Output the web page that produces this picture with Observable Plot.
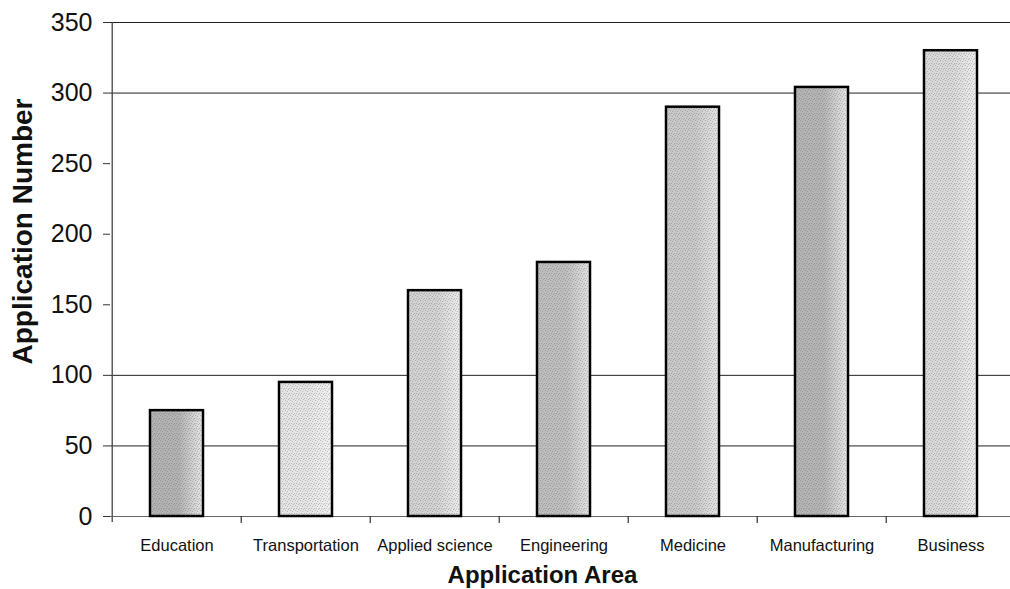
<!DOCTYPE html>
<html>
<head>
<meta charset="utf-8">
<script src="https://cdn.jsdelivr.net/npm/d3@7"></script>
<script src="https://cdn.jsdelivr.net/npm/@observablehq/plot@0.6"></script>
<style>
  body { margin: 0; background: #fff; }
</style>
</head>
<body>
<div id="chart"></div>
<script>
// Number of applications per area
const categories = ["Education", "Transportation", "Applied science", "Engineering", "Medicine", "Manufacturing", "Business"];
const applicationNumbers = [75, 95, 160, 180, 290, 304, 330];
const yTickValues = [0, 50, 100, 150, 200, 250, 300, 350];
const gridValues = [50, 100, 300, 350];
const xTitle = "Application Area";
const yTitle = "Application Number";

// Dot-screen tone of each bar: dense left edge, light right edge
const barTones = [
  ["#b2b2b2", "#e4e4e4"],
  ["#e4e4e4", "#efefef"],
  ["#d2d2d2", "#ebebeb"],
  ["#bdbdbd", "#e2e2e2"],
  ["#c8c8c8", "#e4e4e4"],
  ["#b4b4b4", "#e6e6e6"],
  ["#d8d8d8", "#ececec"]
];

const rows = categories.map((area, i) => ({area, count: applicationNumbers[i], tone: `url(#tone-${i})`}));

const width = 1010;
const height = 589;
const xRange = [110, 1017];
const step = (xRange[1] - xRange[0]) / categories.length;

const chart = Plot.plot({
  width,
  height,
  marginTop: 22,
  marginBottom: 73,
  marginLeft: 110,
  marginRight: 0,
  style: {fontFamily: "'Liberation Sans', Arial, sans-serif", color: "#111", background: "#fff", overflow: "visible"},
  x: {domain: categories, range: xRange, paddingInner: 0.59, paddingOuter: 0.295, label: null},
  y: {domain: [0, 350], label: null},
  color: {type: "identity"},
  marks: [
    Plot.ruleY(gridValues, {stroke: "#222", strokeWidth: 1}),
    Plot.ruleY([0], {stroke: "#666", strokeWidth: 1.2}),
    // ticks between categories
    Plot.ruleX(categories.slice(1), {y1: 0, y2: 0, insetBottom: -7, dx: -step / 2, stroke: "#333", strokeWidth: 1.2}),
    // value axis line
    Plot.ruleX(categories.slice(0, 1), {y1: 350, y2: 0, insetBottom: -6, dx: -step / 2, stroke: "#444", strokeWidth: 1.3}),
    Plot.barY(rows, {x: "area", y: "count", fill: (d) => d.tone, stroke: "#000", strokeWidth: 2.5}),
    Plot.barY(rows, {x: "area", y: "count", fill: () => "url(#stipple)", insetLeft: 2, insetRight: 2}),
    Plot.axisY({ticks: yTickValues, tickSize: 7, tickPadding: 11, fontSize: 25, label: null, stroke: "#333"}),
    Plot.axisX({tickSize: 0, tickPadding: 23, fontSize: 16.5, label: null}),
    Plot.text([yTitle], {frameAnchor: "left", textAnchor: "middle", rotate: -90, dx: -87, dy: -38, fontSize: 28, fontWeight: "bold", fill: () => "#111"}),
    Plot.text([xTitle], {frameAnchor: "bottom", dx: -18, dy: 66, fontSize: 24, fontWeight: "bold", fill: () => "#111"})
  ]
});

// gradient and dot-screen fills referenced by the bars
const ns = "http://www.w3.org/2000/svg";
const defs = document.createElementNS(ns, "defs");
barTones.forEach(([dense, light], i) => {
  const g = document.createElementNS(ns, "linearGradient");
  g.setAttribute("id", `tone-${i}`);
  g.setAttribute("x1", "0"); g.setAttribute("x2", "1"); g.setAttribute("y1", "0"); g.setAttribute("y2", "0");
  [[0, dense], [0.55, dense], [1, light]].forEach(([o, c]) => {
    const s = document.createElementNS(ns, "stop");
    s.setAttribute("offset", o);
    s.setAttribute("stop-color", c);
    g.appendChild(s);
  });
  defs.appendChild(g);
});
const pat = document.createElementNS(ns, "pattern");
pat.setAttribute("id", "stipple");
pat.setAttribute("width", "5");
pat.setAttribute("height", "5");
pat.setAttribute("patternUnits", "userSpaceOnUse");
[[0, 0], [2, 1], [4, 3], [1, 3], [3, 4]].forEach(([px, py]) => {
  const r = document.createElementNS(ns, "rect");
  r.setAttribute("x", px); r.setAttribute("y", py);
  r.setAttribute("width", 1); r.setAttribute("height", 1);
  r.setAttribute("fill", "#555");
  r.setAttribute("fill-opacity", "0.3");
  pat.appendChild(r);
});
defs.appendChild(pat);
chart.insertBefore(defs, chart.firstChild);

document.getElementById("chart").appendChild(chart);
</script>
</body>
</html>
